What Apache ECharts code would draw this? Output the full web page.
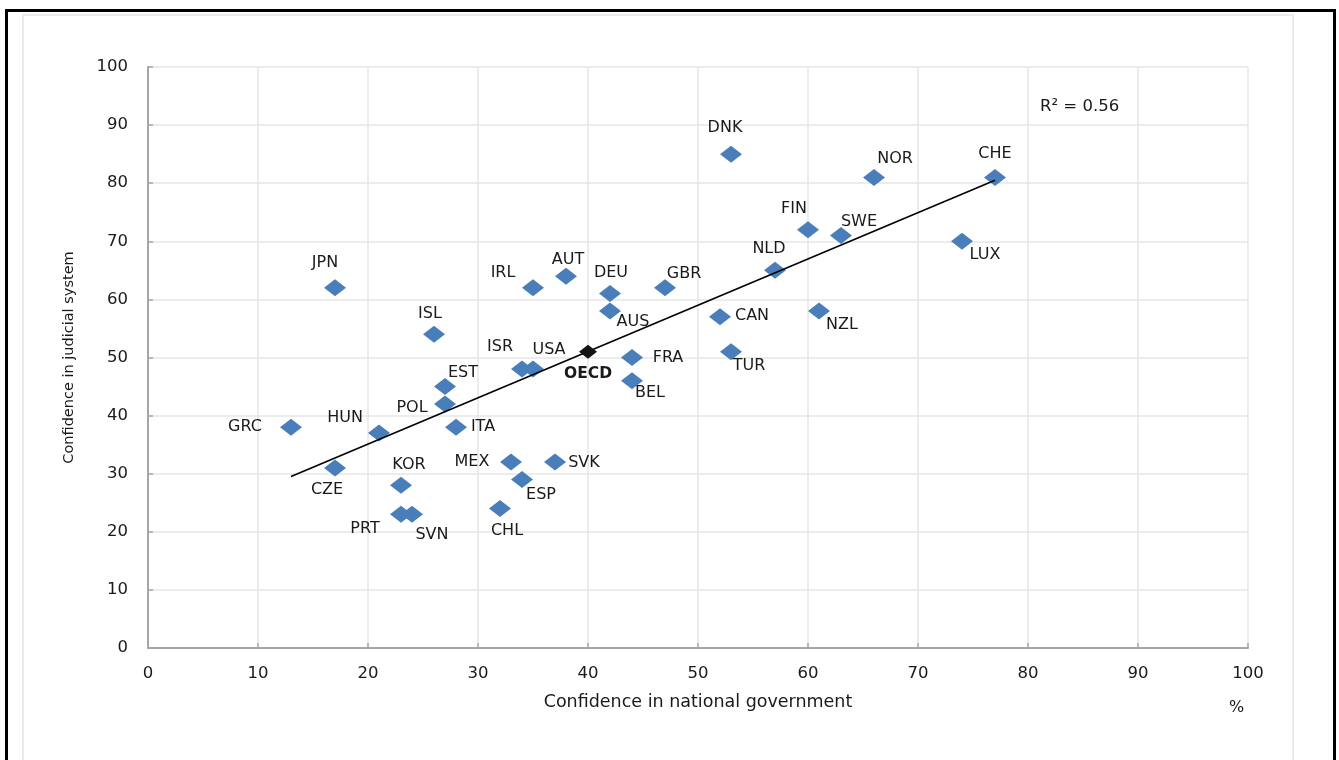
<!DOCTYPE html>
<html>
<head>
<meta charset="utf-8">
<title>Confidence in government and judicial system</title>
<script src="https://cdn.jsdelivr.net/npm/echarts@6/dist/echarts.min.js"></script>
<style>
  html, body { margin: 0; padding: 0; background: #fff; }
  #chart { width: 1339px; height: 760px; }
</style>
</head>
<body>
<div id="chart"></div>
<script>
// Country codes with confidence in national government (x) and judicial system (y), %
const countries = ['DNK','NOR','CHE','FIN','SWE','LUX','NLD','JPN','IRL','AUT','DEU','GBR','AUS','CAN','NZL','ISL','TUR','FRA','ISR','USA','BEL','EST','POL','GRC','HUN','ITA','CZE','MEX','SVK','KOR','ESP','PRT','SVN','CHL'];
const govConfidence = [53, 66, 77, 60, 63, 74, 57, 17, 35, 38, 42, 47, 42, 52, 61, 26, 53, 44, 34, 35, 44, 27, 27, 13, 21, 28, 17, 33, 37, 23, 34, 23, 24, 32];
const judConfidence = [85, 81, 81, 72, 71, 70, 65, 62, 62, 64, 61, 62, 58, 57, 58, 54, 51, 50, 48, 48, 46, 45, 42, 38, 37, 38, 31, 32, 32, 28, 29, 23, 23, 24];

// OECD average
const oecdLabel = 'OECD';
const oecdPoint = [40, 51];

// Linear trend endpoints and fit statistic
const trendLine = [[13, 29.5], [77, 80.5]];
const rSquared = '0.56';

// Axis ticks
const xTicks = [0, 10, 20, 30, 40, 50, 60, 70, 80, 90, 100];
const yTicks = [0, 10, 20, 30, 40, 50, 60, 70, 80, 90, 100];

// Label placement around each marker (dx, dy in pixels)
const labelOffsets = {
  DNK: [-6, -26], NOR: [21, -19], CHE: [0, -24], FIN: [-14, -21], SWE: [18, -14],
  LUX: [23, 14], NLD: [-6, -22], JPN: [-10, -25], IRL: [-30, -15], AUT: [2, -16],
  DEU: [1, -21], GBR: [19, -14], AUS: [23, 11], CAN: [32, -1], NZL: [23, 14],
  ISL: [-4, -20], TUR: [18, 14], FRA: [36, 0], ISR: [-22, -22], USA: [16, -19],
  BEL: [18, 12], EST: [18, -14], POL: [-33, 4], GRC: [-46, 0], HUN: [-34, -15],
  ITA: [27, 0], CZE: [-8, 22], MEX: [-39, 0], SVK: [29, 1], KOR: [8, -20],
  ESP: [19, 15], PRT: [-36, 14], SVN: [20, 20], CHL: [7, 22]
};

const FONT = 'DejaVu Sans';
const TEXT = '#1a1a1a';

const points = countries.map((c, i) => ({
  name: c,
  value: [govConfidence[i], judConfidence[i]],
  label: { offset: labelOffsets[c] }
}));

const chart = echarts.init(document.getElementById('chart'), null, { renderer: 'canvas' });

chart.setOption({
  backgroundColor: '#ffffff',
  animation: false,
  grid: { left: 148, top: 67, right: 91, bottom: 112 },
  xAxis: {
    type: 'value',
    min: xTicks[0], max: xTicks[xTicks.length - 1], interval: xTicks[1] - xTicks[0],
    name: 'Confidence in national government',
    nameLocation: 'middle', nameGap: 45,
    nameTextStyle: { fontFamily: FONT, fontSize: 17.5, color: TEXT },
    axisLine: { lineStyle: { color: '#a6a6a6', width: 2 } },
    axisTick: { show: true, inside: true, length: 5, lineStyle: { color: '#a6a6a6', width: 1.5 } },
    axisLabel: { fontFamily: FONT, fontSize: 16.5, color: TEXT, margin: 17 },
    splitLine: { show: true, lineStyle: { color: '#e6e6e6', width: 1.5 } }
  },
  yAxis: {
    type: 'value',
    min: yTicks[0], max: yTicks[yTicks.length - 1], interval: yTicks[1] - yTicks[0],
    name: 'Confidence in judicial system',
    nameLocation: 'middle', nameGap: 71, nameRotate: 90,
    nameTextStyle: { fontFamily: FONT, fontSize: 14.5, color: TEXT },
    axisLine: { show: true, lineStyle: { color: '#a6a6a6', width: 2 } },
    axisTick: { show: true, inside: true, length: 5, lineStyle: { color: '#a6a6a6', width: 1.5 } },
    axisLabel: { fontFamily: FONT, fontSize: 16.5, color: TEXT, margin: 20 },
    splitLine: { show: true, lineStyle: { color: '#e6e6e6', width: 1.5 } }
  },
  series: [
    {
      name: 'Countries',
      type: 'scatter',
      symbol: 'diamond',
      symbolSize: [22, 17],
      itemStyle: { color: '#4a7ebb', opacity: 1 },
      label: {
        show: true, position: 'inside', align: 'center', verticalAlign: 'middle',
        formatter: p => p.name,
        fontFamily: FONT, fontSize: 16, color: TEXT, opacity: 1
      },
      emphasis: { disabled: true },
      data: points,
      z: 2
    },
    {
      name: oecdLabel,
      type: 'scatter',
      symbol: 'diamond',
      symbolSize: [18, 14],
      itemStyle: { color: '#141414', opacity: 1 },
      label: {
        show: true, position: 'inside', align: 'center', verticalAlign: 'middle',
        offset: [0, 22], formatter: oecdLabel,
        fontFamily: FONT, fontSize: 15.5, fontWeight: 'bold', color: TEXT, opacity: 1
      },
      emphasis: { disabled: true },
      data: [{ name: oecdLabel, value: oecdPoint }],
      z: 4
    },
    {
      name: 'Trend',
      type: 'line',
      data: trendLine,
      showSymbol: false,
      symbol: 'none',
      silent: true,
      lineStyle: { color: '#000000', width: 1.6 },
      z: 3
    }
  ],
  graphic: [
    { type: 'rect', shape: { x: 23, y: 15, width: 1270, height: 800 },
      style: { fill: 'none', stroke: '#ebebeb', lineWidth: 2 }, silent: true, z: -1 },
    { type: 'rect', shape: { x: 6.5, y: 10.5, width: 1328, height: 800 },
      style: { fill: 'none', stroke: '#000000', lineWidth: 3 }, silent: true, z: 10 },
    { type: 'text', left: 1040, top: 98,
      style: { text: 'R\u00b2 = ' + rSquared, font: '16.5px "DejaVu Sans"', fill: TEXT }, z: 10 },
    { type: 'text', left: 1229, top: 700,
      style: { text: '%', font: '16px "DejaVu Sans"', fill: TEXT }, z: 10 }
  ]
});
</script>
</body>
</html>
